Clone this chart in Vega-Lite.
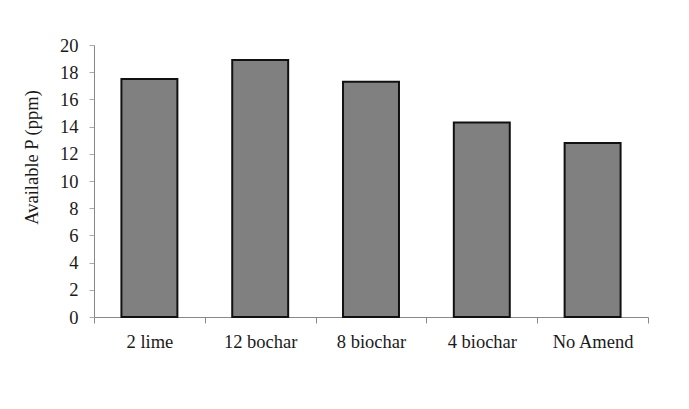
{
  "$schema": "https://vega.github.io/schema/vega-lite/v6.json",
  "autosize": "none",
  "width": 554,
  "height": 272,
  "padding": {"left": 94, "top": 45, "right": 41, "bottom": 92},
  "background": "white",
  "config": {
    "view": {"stroke": null},
    "font": "Liberation Serif",
    "axis": {"grid": false, "labelFont": "Liberation Serif", "titleFont": "Liberation Serif", "labelColor": "#1a1a1a", "titleColor": "#1a1a1a", "titleFontWeight": "normal"}
  },
  "data": {
    "values": [
      {"treatment": "2 lime", "p": 17.5},
      {"treatment": "12 bochar", "p": 18.9},
      {"treatment": "8 biochar", "p": 17.3},
      {"treatment": "4 biochar", "p": 14.3},
      {"treatment": "No Amend", "p": 12.8}
    ]
  },
  "mark": {"type": "bar", "fill": "#808080", "stroke": "#111111", "strokeWidth": 2, "width": {"band": 0.505}},
  "encoding": {
    "x": {
      "field": "treatment",
      "type": "nominal",
      "sort": null,
      "scale": {"paddingInner": 0, "paddingOuter": 0},
      "axis": {
        "title": null,
        "labelAngle": 0,
        "labelFontSize": 18.5,
        "labelPadding": 9,
        "tickBand": "extent",
        "tickSize": 6,
        "tickColor": "#888888",
        "domainColor": "#888888"
      }
    },
    "y": {
      "field": "p",
      "type": "quantitative",
      "scale": {"domain": [0, 20], "nice": false},
      "axis": {
        "title": "Available P (ppm)",
        "values": [0, 2, 4, 6, 8, 10, 12, 14, 16, 18, 20],
        "labelFontSize": 18.5,
        "labelPadding": 11,
        "tickSize": 5,
        "tickColor": "#aaaaaa",
        "domainColor": "#888888",
        "titleFontSize": 18.5,
        "titleAngle": 270,
        "titleAlign": "center",
        "titleBaseline": "middle",
        "titleX": -63,
        "titleY": 112
      }
    }
  }
}
